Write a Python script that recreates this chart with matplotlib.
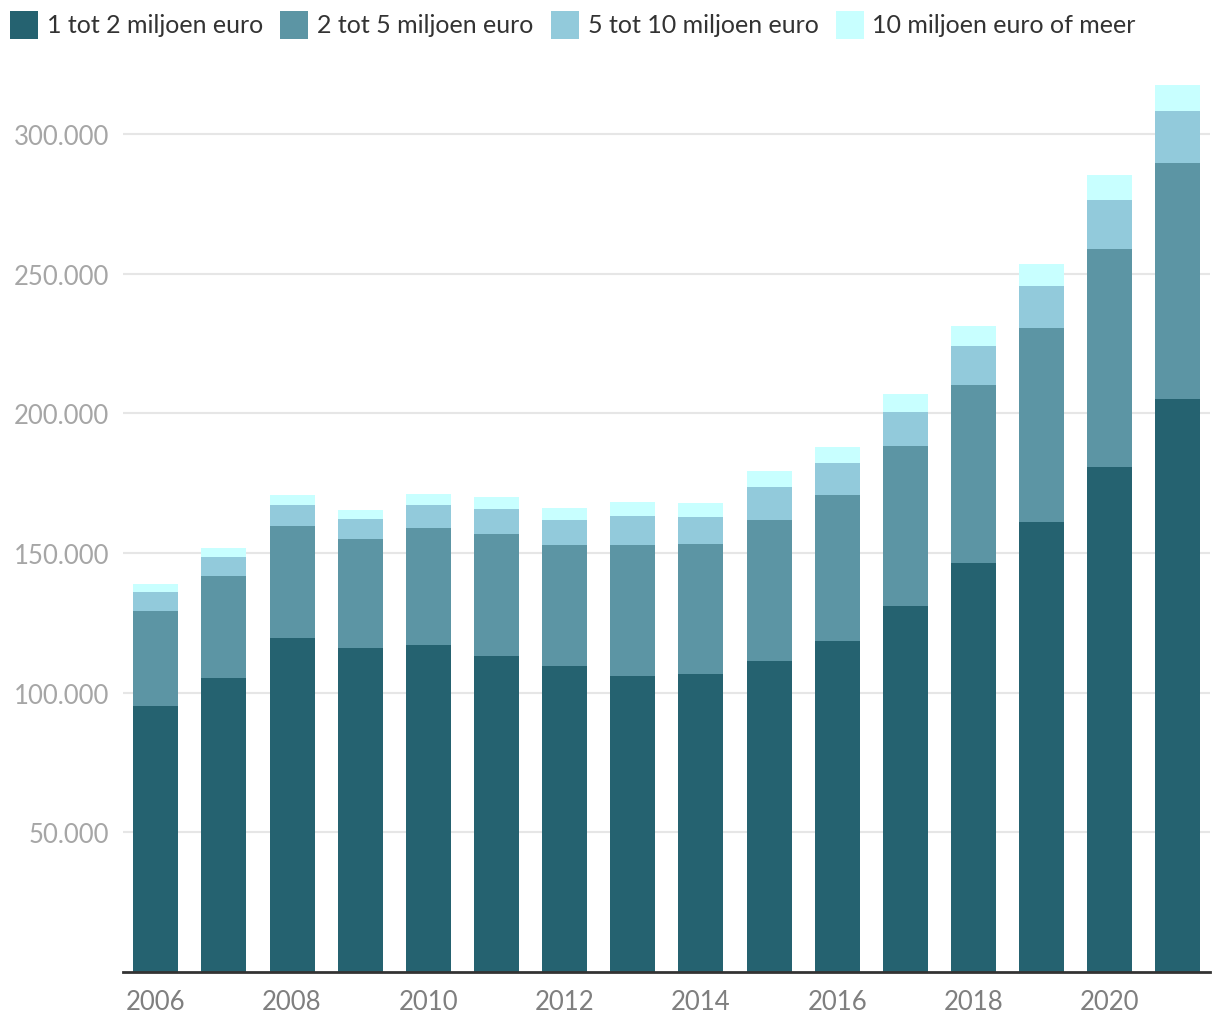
import matplotlib
matplotlib.use("Agg")
import matplotlib.pyplot as plt
from matplotlib.patches import Rectangle
from matplotlib.ticker import FuncFormatter

years = list(range(2006, 2022))
# cumulative tops
tot_1_2 = [95200, 105300, 119600, 116000, 117100, 113100, 109600, 106000, 106700, 111300, 118500, 131000, 146400, 161100, 180800, 205100]
top_2_5 = [129200, 141800, 159700, 155000, 159000, 156800, 152900, 152900, 153200, 161800, 170800, 188300, 210200, 230600, 258800, 289600]
top_5_10 = [136000, 148600, 167200, 162200, 167200, 165800, 161800, 163300, 162900, 173600, 182200, 200500, 224100, 245600, 276400, 308200]
top_10p = [138900, 151800, 170800, 165400, 171100, 170100, 166100, 168300, 167900, 179400, 188000, 206900, 231300, 253500, 285300, 317600]

seg_2_5 = [b - a for a, b in zip(tot_1_2, top_2_5)]
seg_5_10 = [b - a for a, b in zip(top_2_5, top_5_10)]
seg_10p = [b - a for a, b in zip(top_5_10, top_10p)]

labels = ["1 tot 2 miljoen euro", "2 tot 5 miljoen euro", "5 tot 10 miljoen euro", "10 miljoen euro of meer"]
colors = ["#256270", "#5c95a4", "#92cadb", "#c8ffff"]

plt.rcParams['font.family'] = ['Lato', 'DejaVu Sans']

W, H = 1220, 1020
fig = plt.figure(figsize=(W / 100, H / 100), dpi=100)
ax = fig.add_axes([123 / W, 47 / H, (1210 - 123) / W, (973 - 80) / H])

w = 0.66
ax.bar(years, tot_1_2, width=w, color=colors[0], zorder=2)
ax.bar(years, seg_2_5, width=w, bottom=tot_1_2, color=colors[1], zorder=2)
ax.bar(years, seg_5_10, width=w, bottom=top_2_5, color=colors[2], zorder=2)
ax.bar(years, seg_10p, width=w, bottom=top_5_10, color=colors[3], zorder=2)

ax.set_xlim(2005.52, 2021.47)
ax.set_ylim(0, (973 - 80) * 300000 / 838)
ax.set_yticks([50000, 100000, 150000, 200000, 250000, 300000])
ax.yaxis.set_major_formatter(FuncFormatter(lambda v, p: f"{int(v):,}".replace(",", ".")))
ax.set_xticks(list(range(2006, 2022, 2)))
ax.grid(axis='y', color='#e6e6e6', linewidth=1.5, zorder=0)
for s in ['top', 'right', 'left']:
    ax.spines[s].set_visible(False)
ax.spines['bottom'].set_color('#333333')
ax.spines['bottom'].set_linewidth(2)
ax.tick_params(axis='y', length=0, pad=10, labelsize=18.5, labelcolor='#a6a6a6')
ax.tick_params(axis='x', length=0, pad=12, labelsize=18.5, labelcolor='#7f7f7f')

# manual legend in pixel coordinates
renderer = fig.canvas.get_renderer()
x = 10
sq = 28
for lab, col in zip(labels, colors):
    fig.patches.append(Rectangle((x / W, 1 - 40 / H), sq / W, sq / H, transform=fig.transFigure,
                                 facecolor=col, edgecolor='none'))
    t = fig.text((x + sq + 9) / W, 1 - 33 / H, lab, fontsize=18, color='#333333',
                 ha='left', va='baseline')
    bb = t.get_window_extent(renderer=renderer)
    x = bb.x1 + 17

fig.savefig("out.png", dpi=100)
